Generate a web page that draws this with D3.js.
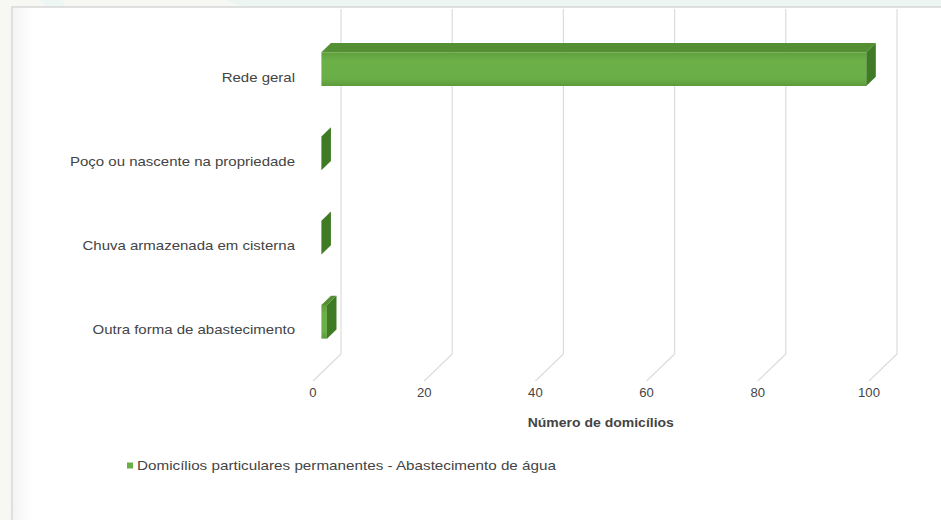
<!DOCTYPE html>
<html>
<head>
<meta charset="utf-8">
<script src="https://cdn.jsdelivr.net/npm/d3@7"></script>
<style>
  html, body { margin: 0; padding: 0; background: #f7f8f3; }
  svg { display: block; }
  text { font-family: "Liberation Sans", Arial, sans-serif; fill: #444444; }
</style>
</head>
<body>
<svg id="chart" width="941" height="520"></svg>
<script>
// Data: water supply of permanent private households
const categories = [
  "Rede geral",
  "Poço ou nascente na propriedade",
  "Chuva armazenada em cisterna",
  "Outra forma de abastecimento"
];
const values = [98, 0, 0, 1];
const xTicks = [0, 20, 40, 60, 80, 100];
const seriesName = "Domicílios particulares permanentes - Abastecimento de água";
const axisTitle = "Número de domicílios";

const W = 941, H = 520;
const svg = d3.select("#chart");

// page background and frame
svg.append("rect").attr("width", W).attr("height", H).attr("fill", "#f7f8f3");
svg.append("path").attr("d", "M225,0 L941,0 L941,8 L245,8 Z").attr("fill", "#ecf5f2");
svg.append("path").attr("d", "M40,0 L62,0 L67,8 L48,8 Z").attr("fill", "#eef6f3");

const defs = svg.append("defs");
const edge = defs.append("linearGradient").attr("id", "leftEdge");
edge.append("stop").attr("offset", 0).attr("stop-color", "#ececec");
edge.append("stop").attr("offset", 1).attr("stop-color", "#ffffff");

svg.append("rect").attr("x", 12).attr("y", 7).attr("width", W).attr("height", H)
  .attr("fill", "#ffffff").attr("stroke", "#d6d6d6").attr("stroke-width", 1.5);
svg.append("rect").attr("x", 13).attr("y", 8).attr("width", 20).attr("height", H)
  .attr("fill", "url(#leftEdge)").attr("opacity", 0.6);

// 3D geometry: front floor edge, depth vector of the floor
const floorY = 381;
const DX = 28, DY = -27;
const topY = 9;
const barFront = 0.3, barBack = 0.64;

const x = d3.scaleLinear().domain([0, 100]).range([313, 869]);
const y = d3.scaleBand().domain(categories).range([35, 372])
  .paddingInner(0.6).paddingOuter(0.3);

const proj = (v, yy, f) => [x(v) + f * DX, yy + f * DY];

// back wall gridlines and floor diagonals
const grid = svg.append("g").attr("stroke", "#dcdcdc").attr("stroke-width", 1.2).attr("fill", "none");
xTicks.forEach(t => {
  const [bx, by] = proj(t, floorY, 1);
  grid.append("line").attr("x1", bx).attr("x2", bx).attr("y1", topY).attr("y2", by);
  grid.append("line").attr("x1", x(t)).attr("y1", floorY).attr("x2", bx).attr("y2", by);
});

// bar shading
const frontGrad = defs.append("linearGradient").attr("id", "frontFace")
  .attr("x1", 0).attr("y1", 0).attr("x2", 0).attr("y2", 1);
frontGrad.append("stop").attr("offset", 0).attr("stop-color", "#5f9e3c");
frontGrad.append("stop").attr("offset", 0.25).attr("stop-color", "#6cb048");
frontGrad.append("stop").attr("offset", 0.8).attr("stop-color", "#6aae47");
frontGrad.append("stop").attr("offset", 1).attr("stop-color", "#5c9a3a");

const poly = pts => "M" + pts.map(p => p.join(",")).join("L") + "Z";

const bars = svg.append("g");
categories.forEach((c, i) => {
  const v = values[i];
  const t = y(c), b = y(c) + y.bandwidth();
  const g = bars.append("g");
  // top face
  g.append("path").attr("d", poly([
    proj(0, t, barFront), proj(v, t, barFront), proj(v, t, barBack), proj(0, t, barBack)
  ])).attr("fill", "#548f33");
  // front face
  g.append("path").attr("d", poly([
    proj(0, t, barFront), proj(v, t, barFront), proj(v, b, barFront), proj(0, b, barFront)
  ])).attr("fill", "url(#frontFace)");
  // end face
  g.append("path").attr("d", poly([
    proj(v, t, barFront), proj(v, t, barBack), proj(v, b, barBack), proj(v, b, barFront)
  ])).attr("fill", "#3f7a25");
});

// category labels
const stretch = 1.2;
const labels = svg.append("g").attr("font-size", 12.5);
categories.forEach(c => {
  const cy = y(c) + y.bandwidth() / 2;
  labels.append("text")
    .attr("transform", `translate(295,${cy}) scale(${stretch},1)`)
    .attr("text-anchor", "end").attr("dy", "0.35em").text(c);
});

// value axis tick labels
const ticks = svg.append("g").attr("font-size", 12.5);
xTicks.forEach(tv => {
  ticks.append("text")
    .attr("transform", `translate(${x(tv)},393) scale(1.05,1)`)
    .attr("text-anchor", "middle").attr("dy", "0.35em").text(tv);
});

// axis title
svg.append("text")
  .attr("transform", `translate(${x(50) + DX * 0.35},423) scale(1.12,1)`)
  .attr("text-anchor", "middle").attr("dy", "0.35em")
  .attr("font-size", 12.5).attr("font-weight", "bold").attr("fill", "#222")
  .text(axisTitle);

// legend
const legend = svg.append("g").attr("transform", "translate(127,466)");
legend.append("rect").attr("x", 0).attr("y", -3.5).attr("width", 6).attr("height", 6).attr("fill", "#6aae47");
legend.append("text").attr("transform", "translate(10,0) scale(1.27,1)")
  .attr("dy", "0.35em").attr("font-size", 12).text(seriesName);
</script>
</body>
</html>
